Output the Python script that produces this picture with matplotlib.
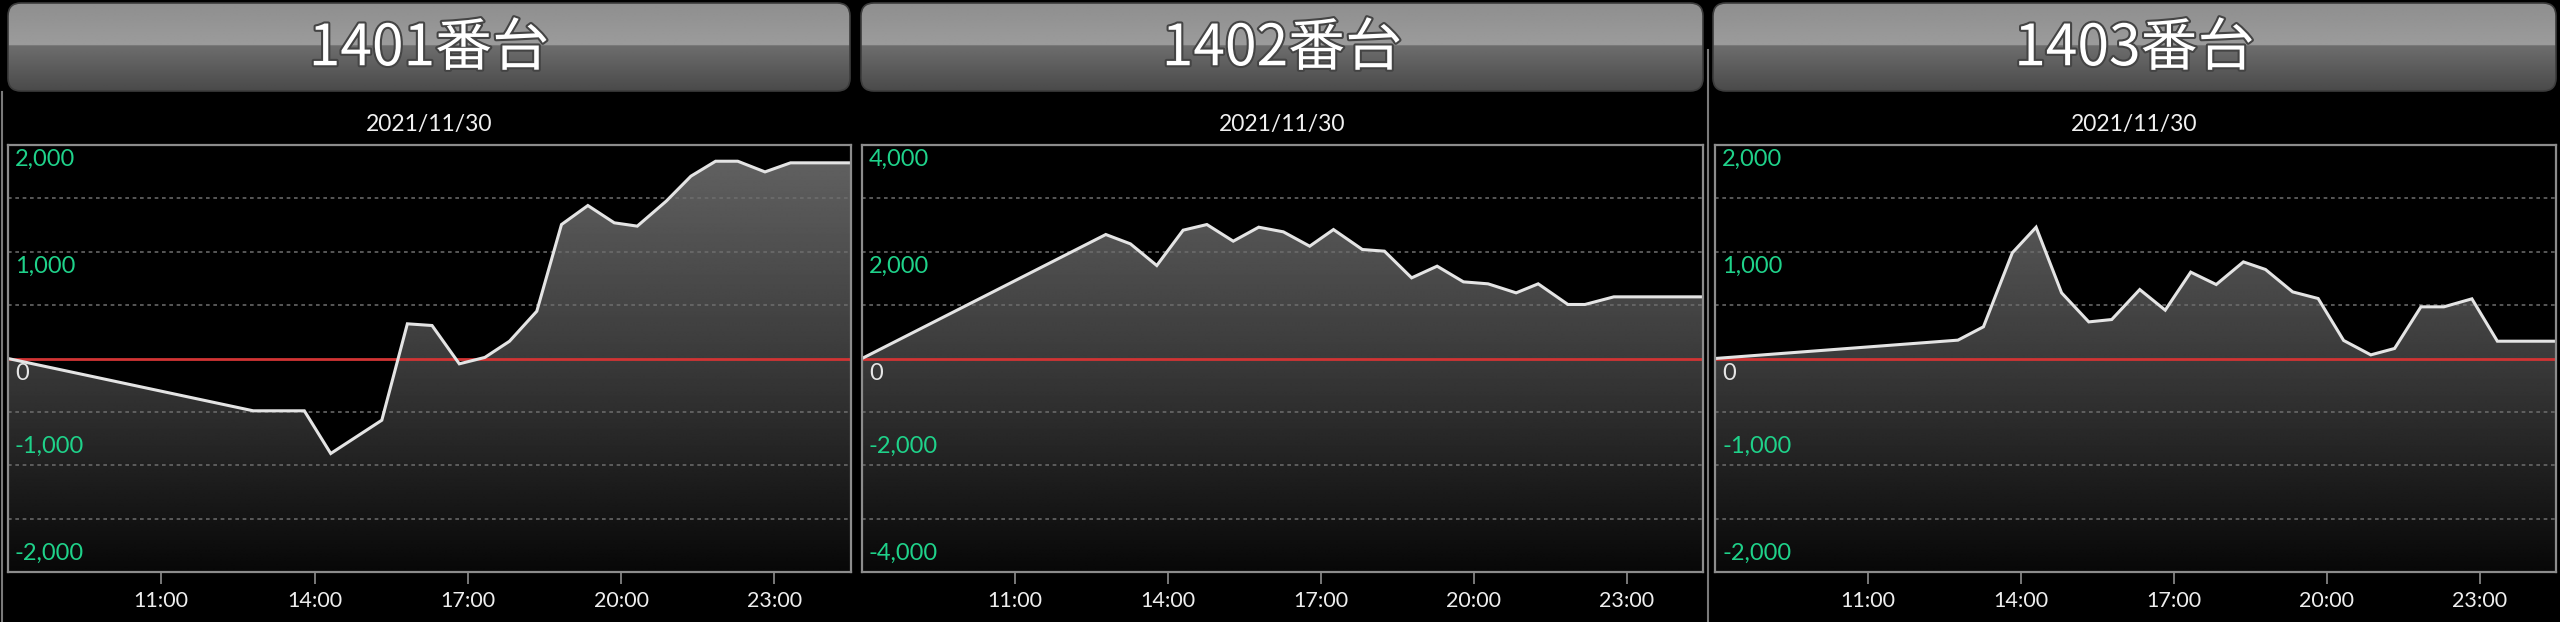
import numpy as np
import matplotlib
matplotlib.use("Agg")
import matplotlib.pyplot as plt
from matplotlib.patches import FancyBboxPatch, Polygon
import matplotlib.patheffects as pe

# ---------------- data ----------------
titles = ["1401番台", "1402番台", "1403番台"]
date_label = "2021/11/30"
xtick_hours = [11, 14, 17, 20, 23]
xtick_labels = ["11:00", "14:00", "17:00", "20:00", "23:00"]
y_ranges = [2000, 4000, 2000]

times_1401 = ["08:00", "12:48", "13:48", "14:19", "15:19", "15:49", "16:18", "16:50",
              "17:20", "17:49", "18:21", "18:50", "19:21", "19:52", "20:19", "20:53",
              "21:22", "21:51", "22:17", "22:49", "23:19", "24:30"]
values_1401 = [0, -490, -490, -890, -578, 325, 309, -50,
               10, 162, 443, 1255, 1433, 1271, 1240, 1474,
               1708, 1848, 1848, 1748, 1833, 1833]

times_1402 = ["08:00", "12:47", "13:16", "13:47", "14:18", "14:46", "15:17", "15:47",
              "16:16", "16:47", "17:15", "17:49", "18:15", "18:47", "19:17", "19:48",
              "20:17", "20:50", "21:16", "21:51", "22:11", "22:45", "24:30"]
values_1402 = [0, 2323, 2148, 1742, 2404, 2510, 2198, 2460,
               2373, 2104, 2416, 2042, 2011, 1511, 1730, 1436,
               1399, 1230, 1399, 1012, 1012, 1155, 1155]

times_1403 = ["08:00", "12:46", "13:16", "13:50", "14:18", "14:48", "15:20", "15:47",
              "16:20", "16:50", "17:20", "17:50", "18:22", "18:48", "19:20", "19:50",
              "20:20", "20:52", "21:20", "21:51", "22:18", "22:51", "23:21", "24:30"]
values_1403 = [0, 172, 297, 990, 1230, 615, 343, 365,
               646, 453, 809, 693, 905, 834, 624, 562,
               169, 34, 94, 484, 484, 559, 162, 162]

series_times = [times_1401, times_1402, times_1403]
series_values = [values_1401, values_1402, values_1403]


def to_hours(t):
    h, m = t.split(":")
    return int(h) + int(m) / 60.0


# ---------------- layout (pixels) ----------------
W, H = 2560, 622
fig = plt.figure(figsize=(W / 100, H / 100), dpi=100, facecolor="black")

panel_x = [(8, 851), (862, 1703), (1715, 2556)]
header_x = [(8, 850), (861, 1703), (1713, 2556)]
box_top, box_bot = 145, 572
XMIN, XMAX = 8.0, 24.5

num_font = "Lato"

# background / decoration axes in pixel coordinates
bg = fig.add_axes([0, 0, 1, 1], zorder=0)
bg.set_facecolor("black")
bg.axis("off")

# header gradient profile
hy = np.linspace(0, 1, 200)
prof = np.where(hy < 0.48, 0.56 + 0.05 * (hy / 0.48), 0.43 - 0.14 * ((hy - 0.48) / 0.52))
hgrad = np.repeat(prof[:, None], 2, axis=1)

for (hx0, hx1), title in zip(header_x, titles):
    patch = FancyBboxPatch((hx0, 3), hx1 - hx0, 88,
                           boxstyle="round,pad=0,rounding_size=13",
                           facecolor="none", edgecolor="#3c3c3c", lw=1.2, zorder=3)
    bg.add_patch(patch)
    im = bg.imshow(hgrad, cmap="gray", vmin=0, vmax=1, extent=(hx0, hx1, 91, 3),
                   aspect="auto", origin="upper", interpolation="bilinear", zorder=2)
    im.set_clip_path(patch)
    bg.text((hx0 + hx1) / 2, 49, title, color="white", fontsize=41,
            family=["Noto Sans CJK JP", "DejaVu Sans"], ha="center", va="center", zorder=4,
            path_effects=[pe.withStroke(linewidth=3, foreground="#444444")])
    bg.text((hx0 + hx1) / 2, 125, date_label, color="#f0f0f0", fontsize=16.5,
            family=num_font, ha="center", va="center", zorder=4)

# separators
bg.plot([2, 2], [92, 622], color="#7a7a7a", lw=1.5, zorder=1)
bg.plot([1708, 1708], [50, 622], color="#7a7a7a", lw=1.5, zorder=1)

bg.set_xlim(0, W)
bg.set_ylim(H, 0)

# fill gradient for plot areas
gy = np.linspace(0, 1, 300)
gprof = np.interp(gy, [0, 0.5, 1.0], [0.39, 0.23, 0.03])
ggrad = np.repeat(gprof[:, None], 2, axis=1)

for (px0, px1), times, vals, R in zip(panel_x, series_times, series_values, y_ranges):
    ax = fig.add_axes([px0 / W, (H - box_bot) / H, (px1 - px0) / W, (box_bot - box_top) / H],
                      zorder=5)
    ax.set_facecolor("black")
    x = np.array([to_hours(t) for t in times])
    y = np.array(vals, dtype=float)

    verts = [(x[0], -R)] + list(zip(x, y)) + [(x[-1], -R)]
    poly = Polygon(verts, closed=True, facecolor="none", edgecolor="none")
    ax.add_patch(poly)
    im = ax.imshow(ggrad, cmap="gray", vmin=0, vmax=1, extent=(XMIN, XMAX, -R, R),
                   aspect="auto", origin="upper", interpolation="bilinear", zorder=1)
    im.set_clip_path(poly)

    ax.axhline(0, color="#d23434", lw=2.0, zorder=3)
    ax.plot(x, y, color="#e4e4e4", lw=2.2, zorder=4, solid_joinstyle="miter")

    ax.set_xlim(XMIN, XMAX)
    ax.set_ylim(-R, R)

    grid_vals = [-0.75 * R, -0.5 * R, -0.25 * R, 0.25 * R, 0.5 * R, 0.75 * R]
    ax.set_yticks(grid_vals)
    ax.set_yticklabels([])
    ax.tick_params(axis="y", length=0)
    ax.yaxis.grid(True, color="#6e6e6e", lw=1.1, linestyle=(0, (2.4, 2.4)), zorder=2)
    ax.set_axisbelow(False)

    ax.set_xticks(xtick_hours)
    ax.set_xticklabels(xtick_labels)
    ax.tick_params(axis="x", direction="out", length=8.6, width=1.1, colors="#9a9a9a",
                   labelcolor="#eeeeee", labelsize=15.5, pad=5)
    for lab in ax.get_xticklabels():
        lab.set_family(num_font)

    for sp in ax.spines.values():
        sp.set_color("#8c8c8c")
        sp.set_linewidth(1.6)
        sp.set_zorder(6)

    ytrans = ax.get_yaxis_transform()
    for v in [R, R / 2, 0, -R / 2, -R]:
        txt = "{:,}".format(int(v))
        col = "#e6e6e6" if v == 0 else "#1fd28a"
        if v >= 0:
            ax.annotate(txt, xy=(0, v), xycoords=ytrans, xytext=(7, -4),
                        textcoords="offset pixels", va="top", ha="left",
                        color=col, fontsize=17, family=num_font, zorder=7)
        else:
            ax.annotate(txt, xy=(0, v), xycoords=ytrans, xytext=(7, 12),
                        textcoords="offset pixels", va="baseline", ha="left",
                        color=col, fontsize=17, family=num_font, zorder=7)

fig.savefig("out.png", dpi=100, facecolor="black")
